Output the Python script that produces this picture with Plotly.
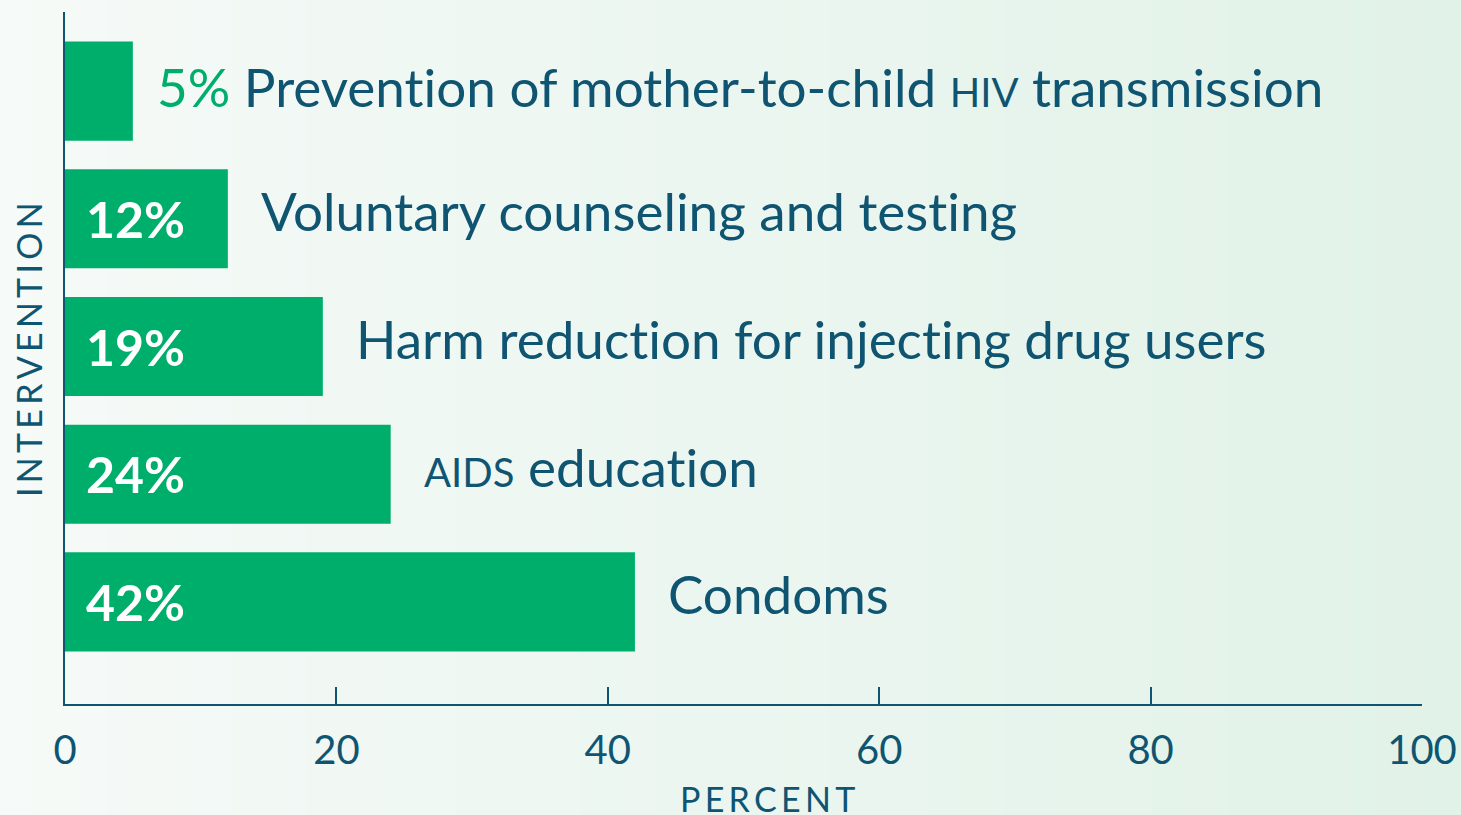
import plotly.graph_objects as go

# Data (top-to-bottom display order)
categories = [
    "Prevention of mother-to-child HIV transmission",
    "Voluntary counseling and testing",
    "Harm reduction for injecting drug users",
    "AIDS education",
    "Condoms",
]
label_html = [
    "Prevention of mother-to-child <span style='font-size:40px'>HIV</span> transmission",
    "Voluntary counseling and testing",
    "Harm reduction for injecting drug users",
    "<span style='font-size:40px'>AIDS</span> education",
    "Condoms",
]
values = [5, 12, 19, 24, 42]
x_ticks = [0, 20, 40, 60, 80, 100]

GREEN = "#00ae6b"
TEAL = "#0f5572"
FONT = "Lato"


def no_lig(s):
    # break "ti"/"ft" ligatures of the font with zero-width non-joiners
    return s.replace("ti", "t\u200ci").replace("ft", "f\u200ct")


fig = go.Figure()
fig.add_trace(go.Bar(
    x=values, y=categories, orientation="h",
    marker=dict(color=GREEN, line=dict(width=0)),
    hoverinfo="skip",
))

# background gradient (left near-white to right light green)
n = 60
c0 = (246, 250, 248)
c1 = (225, 242, 232)
for i in range(n):
    t = i / (n - 1)
    col = tuple(round(c0[k] + (c1[k] - c0[k]) * t) for k in range(3))
    fig.add_shape(type="rect", xref="paper", yref="paper",
                  x0=-0.06 + i * (1.1 / n) - 0.0005, x1=-0.06 + (i + 1) * (1.1 / n) + 0.0005,
                  y0=-0.2, y1=1.02, fillcolor="rgb(%d,%d,%d)" % col,
                  line=dict(width=0), layer="below")

annotations = []
for cat, lab, v in zip(categories, label_html, values):
    if v < 8:
        txt = "<span style='color:%s'>%d%%</span> %s" % (GREEN, v, no_lig(lab))
        annotations.append(dict(x=v, y=cat, xref="x", yref="y", text=txt,
                                showarrow=False, xanchor="left", yanchor="middle",
                                xshift=22, yshift=5, font=dict(family=FONT, size=53, color=TEAL)))
    else:
        annotations.append(dict(x=0, y=cat, xref="x", yref="y", text="<b>%d%%</b>" % v,
                                showarrow=False, xanchor="left", yanchor="middle",
                                xshift=19, yshift=0,
                                font=dict(family=FONT, size=50, color="white")))
        annotations.append(dict(x=v, y=cat, xref="x", yref="y", text=no_lig(lab),
                                showarrow=False, xanchor="left", yanchor="middle",
                                xshift=31, yshift=8,
                                font=dict(family=FONT, size=53, color=TEAL)))

annotations.append(dict(x=(767 - 65) / 1357, y=0, xref="paper", yref="paper",
                        text="P\u2009E\u2009R\u2009C\u2009E\u2009N\u2009T",
                        showarrow=False, xanchor="center", yanchor="middle", yshift=-94,
                        font=dict(family=FONT, size=34, color=TEAL)))
annotations.append(dict(x=(28 - 65) / 1357, y=(704 - 350) / 692, xref="paper", yref="paper",
                        text="I\u2009N\u2009T\u2009E\u2009R\u2009V\u2009E\u2009N\u2009T\u2009I\u2009O\u2009N",
                        textangle=-90, showarrow=False, xanchor="center", yanchor="middle",
                        font=dict(family=FONT, size=34, color=TEAL)))
annotations.append(dict(x=0, y=0, xref="paper", yref="paper", text="Source:",
                        showarrow=False, xanchor="left", yanchor="top", yshift=-104,
                        font=dict(family=FONT, size=30, color=TEAL)))

fig.update_layout(
    width=1461, height=815,
    margin=dict(l=65, r=39, t=12, b=111, autoexpand=False),
    paper_bgcolor="#f4f9f6", plot_bgcolor="rgba(0,0,0,0)",
    showlegend=False, bargap=0.224,
    annotations=annotations,
    xaxis=dict(range=[0, 100], tickvals=x_ticks, ticks="inside", ticklen=17, tickwidth=2,
               tickcolor=TEAL, showline=True, linecolor=TEAL, linewidth=2,
               showgrid=False, zeroline=False, ticklabelstandoff=10, automargin=False,
               tickfont=dict(family=FONT, size=40, color=TEAL)),
    yaxis=dict(range=[-0.8, 4.62], categoryorder="array",
               categoryarray=list(reversed(categories)), showticklabels=False,
               ticks="", showline=True, linecolor=TEAL, linewidth=2,
               showgrid=False, zeroline=False, automargin=False),
)

fig.write_html("out.html", config={"displayModeBar": False},
               post_script="document.body.style.margin='0px';document.body.style.overflow='hidden';")
